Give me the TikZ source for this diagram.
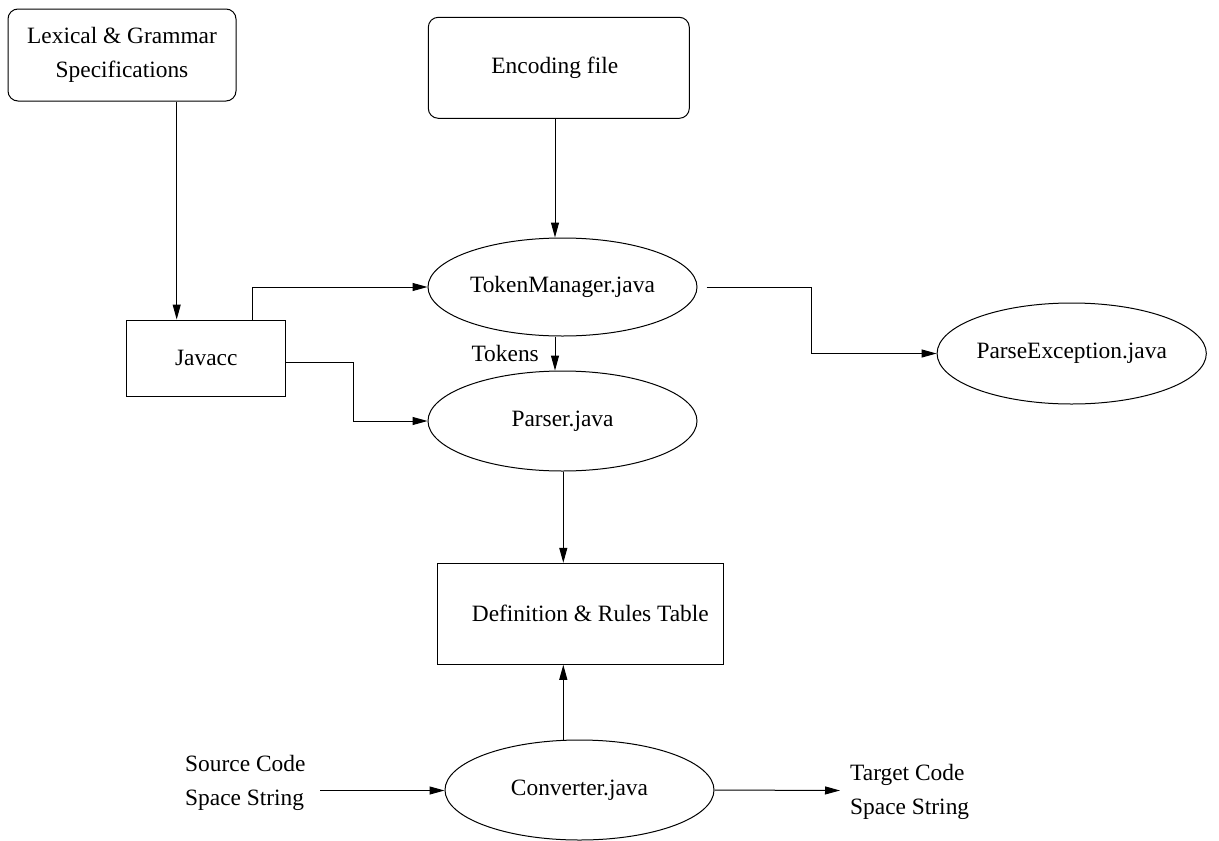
\documentclass[tikz,border=0pt]{standalone}
\usepackage{fontspec}
\setmainfont{Liberation Serif}
\newfontfamily\diagfont{Liberation Serif}
\usetikzlibrary{arrows.meta,shapes.geometric,calc}
\begin{document}
\begin{tikzpicture}[x=1pt,y=-1pt,
  every node/.style={font=\diagfont\fontsize{23.4}{34.5}\selectfont},
  line/.style={line width=1pt,draw=black},
  arr/.style={line, -{Triangle[length=15pt,width=8pt]}},
  rbox/.style={line, rectangle, rounded corners=10pt, inner sep=0pt, align=center},
  sbox/.style={line, rectangle, inner sep=0pt, align=center},
  oval/.style={line, ellipse, inner sep=0pt},
  txt/.style={inner sep=0pt, align=left}]
\useasboundingbox (0,0) rectangle (1219,841);
% nodes
\node[rbox, minimum width=228pt, minimum height=92pt] (lex) at (122,55) {Lexical \& Grammar\\Specifications};
\node[rbox, minimum width=261pt, minimum height=101pt] (enc) at (558.8,67.8) {\hspace*{-8pt}Encoding file};
\node[sbox, minimum width=159pt, minimum height=76pt] (jav) at (206.3,358) {Javacc};
\node[oval, minimum width=269pt, minimum height=98pt] (tm) at (562.5,287) {TokenManager.java};
\node[oval, minimum width=269pt, minimum height=100pt] (parser) at (562.5,421) {Parser.java};
\node[oval, minimum width=260pt, minimum height=101pt] (pe) at (1071.7,353.5) {ParseException.java};
\node[sbox, minimum width=286pt, minimum height=101pt] (def) at (580.3,613.8) {\hspace*{20pt}Definition \& Rules Table};
\node[oval, minimum width=269pt, minimum height=100pt] (conv) at (579.5,790) {Converter.java};
\node[txt, anchor=west] (src) at (185,783) {Source Code\\Space String};
\node[txt, anchor=west] (tgt) at (850,792) {Target Code\\Space String};
\node[inner sep=0pt, anchor=base east] (tok) at (539,361.7) {Tokens};
% helper coordinates
\coordinate (xa) at (176.7,0);
\coordinate (xb) at (252.3,0);
\coordinate (xc) at (353.3,0);
\coordinate (xd) at (555,0);
\coordinate (xe) at (563.3,0);
\coordinate (xf) at (811,0);
\coordinate (s1) at (320,790.5);
\coordinate (t1) at (840,790.5);
% connectors
\draw[arr] (lex.south -| xa) -- (jav.north -| xa);
\draw[arr] (jav.north -| xb) |- (tm.west);
\draw[arr] ([yshift=-4.3pt]jav.east) -| (xc |- parser.west) -- (parser.west);
\draw[arr] (enc.south -| xd) -- (tm.north -| xd);
\draw[arr] (tm.south -| xd) -- (parser.north -| xd);
\draw[arr] ([xshift=9pt]tm.east) -| (xf |- pe.west) -- (pe.west);
\draw[arr] (parser.south -| xe) -- (def.north -| xe);
\draw[arr] (conv.north -| xe) -- (def.south -| xe);
\draw[arr] (s1) -- (s1 -| conv.west);
\draw[arr] (conv.east) -- (t1);
\end{tikzpicture}
\end{document}
